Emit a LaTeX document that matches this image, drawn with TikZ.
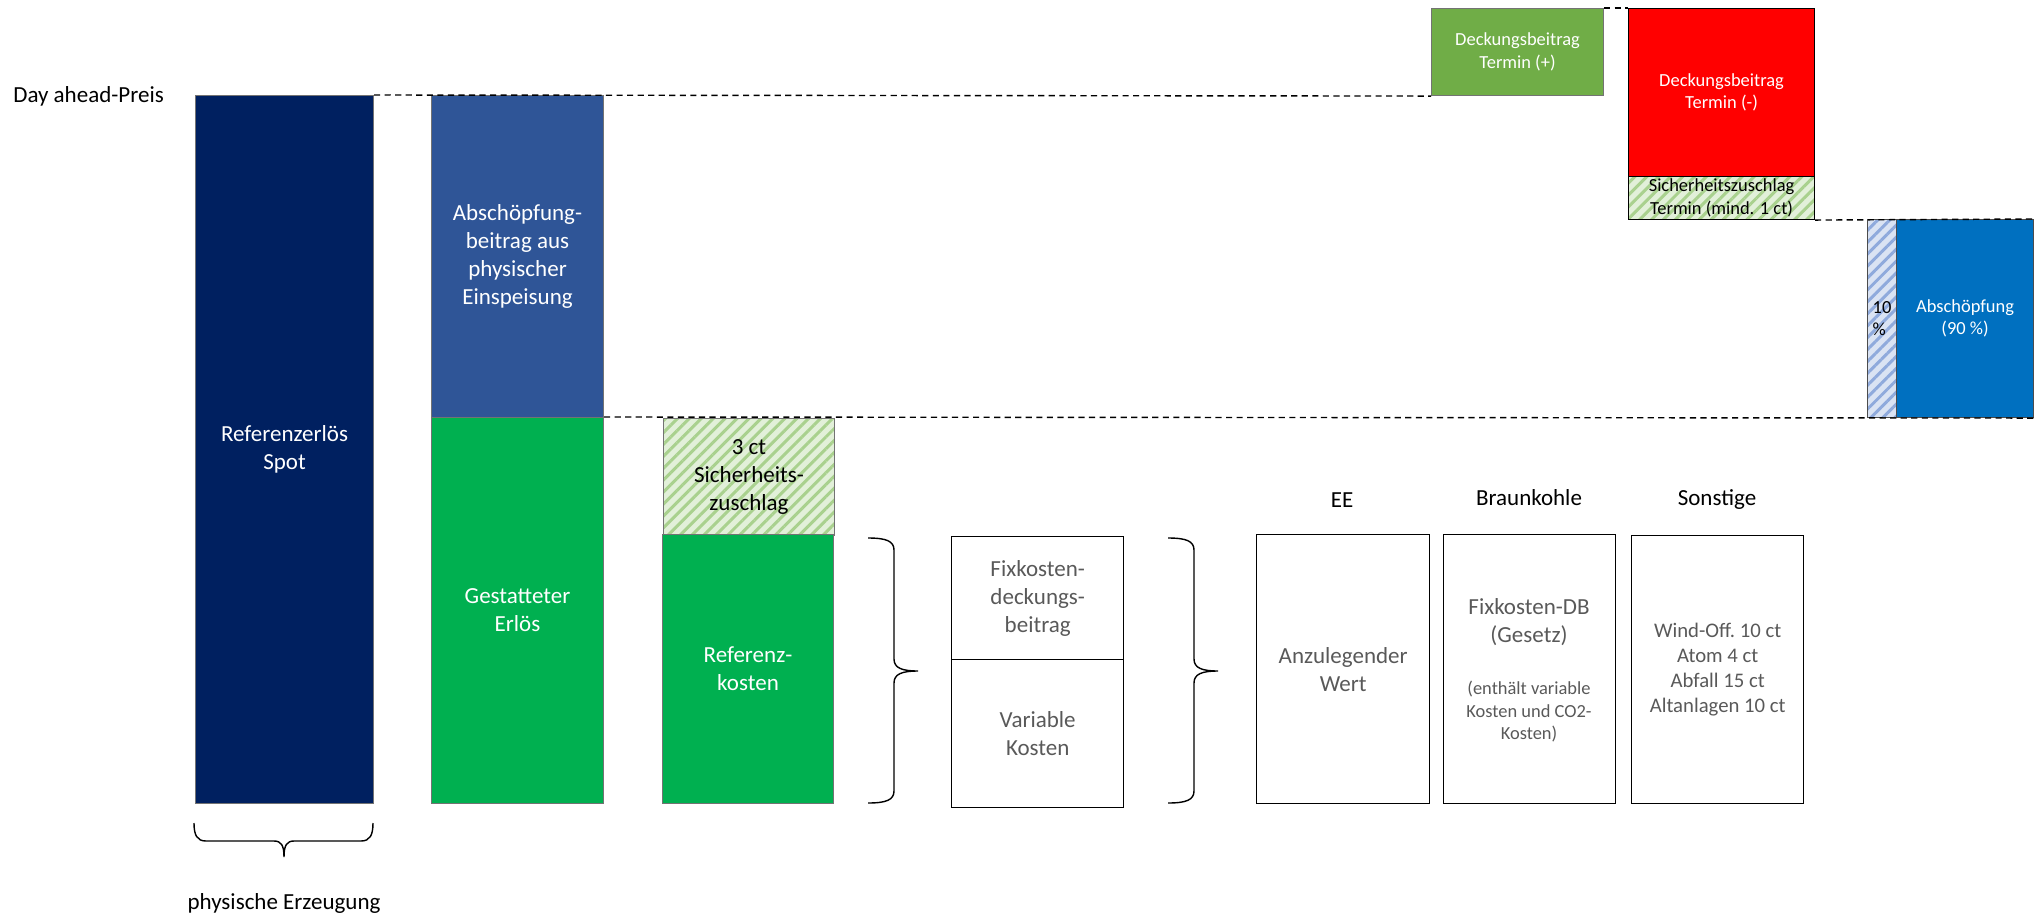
\documentclass[tikz,border=0pt]{standalone}
\usepackage{fontspec}
\setmainfont{Carlito}
\usetikzlibrary{patterns.meta}
\definecolor{navy}{HTML}{002060}
\definecolor{abblue}{HTML}{2F5597}
\definecolor{okgreen}{HTML}{00B050}
\definecolor{lgreen}{HTML}{70AD47}
\definecolor{midblue}{HTML}{0070C0}
\definecolor{hgbg}{HTML}{E2F0D9}
\definecolor{hgfg}{HTML}{A9D18E}
\definecolor{hbbg}{HTML}{DAE3F3}
\definecolor{hbfg}{HTML}{8FAADC}
\definecolor{txtgray}{HTML}{595959}
\newcommand{\bigtxt}{\fontsize{13.1pt}{15.9pt}\selectfont}
\newcommand{\midtxt}{\fontsize{11.8pt}{14.2pt}\selectfont}
\newcommand{\smalltxt}{\fontsize{10.5pt}{12.8pt}\selectfont}
% vertical brace, tip to the right: left x, top y, tip y, bottom y
\newcommand{\rbrc}[4]{\draw[line width=0.8pt] (#1,#2) .. controls (#1+18,#2) and (#1+26,#2+3) .. (#1+26,#2+12)
  -- (#1+26,#3-12) .. controls (#1+26,#3-3) and (#1+34,#3) .. (#1+50,#3)
  .. controls (#1+34,#3) and (#1+26,#3+3) .. (#1+26,#3+12)
  -- (#1+26,#4-12) .. controls (#1+26,#4-3) and (#1+18,#4) .. (#1,#4)}
\tikzset{
  wh/.style 2 args={minimum width=#1*0.02cm, minimum height=#2*0.02cm},
  bar/.style={draw=black!55, line width=0.6pt, anchor=north west, align=center,
    inner sep=1pt, text=white, font=\bigtxt},
  box/.style={draw=black, line width=0.8pt, anchor=north west, align=center,
    inner sep=1pt, text=txtgray, font=\bigtxt},
  ghatch/.style={preaction={fill=hgbg}, pattern={Lines[angle=45,distance=4.8pt,line width=1.7pt]},
    pattern color=hgfg, text=black},
  bhatch/.style={preaction={fill=hbbg}, pattern={Lines[angle=45,distance=4.8pt,line width=1.7pt]},
    pattern color=hbfg, text=black},
  txt/.style={inner sep=0pt, font=\bigtxt},
  level/.style={line width=0.8pt, dash pattern=on 3.5pt off 2.5pt}
}
\begin{document}
\begin{tikzpicture}[x=0.02cm,y=-0.02cm]
  \useasboundingbox (0,0) rectangle (2042,917);
  % left columns
  \node[txt, anchor=west] (dap) at (13,96) {Day ahead-Preis};
  \node[bar, fill=navy, wh={178}{708}] (spot) at (195,95) {Referenzerlös\\Spot};
  \node[bar, fill=abblue, wh={172}{322}] (absb) at (431,95) {Abschöpfung-\\beitrag aus\\physischer\\Einspeisung};
  \node[bar, fill=okgreen, wh={172}{386}] (erl) at (431,417) {Gestatteter\\Erlös};
  \node[bar, ghatch, wh={171}{117}] (sz3) at (662,417) {3 ct\\Sicherheits-\\zuschlag};
  \node[bar, fill=okgreen, wh={171}{269}] (refk) at (662,534) {Referenz-\\kosten};
  \node[box, wh={172}{123}] (fixdb) at (951,536) {Fixkosten-\\deckungs-\\beitrag};
  \node[box, wh={172}{148}] (vark) at (951,659) {Variable\\Kosten};
  % kinds of plants
  \node[txt] (eeh) at (1342,500) {EE};
  \node[txt] (bkh) at (1529,498) {Braunkohle};
  \node[txt] (soh) at (1717,500) {Sonstige};
  \node[box, wh={173}{269}] (ee) at (1256,534) {Anzulegender\\Wert};
  \node[box, wh={172}{269}] (bk) at (1443,534) {};
  \node[txt, align=center, text=txtgray] (bkdb) at (1529,622) {Fixkosten-DB\\(Gesetz)};
  \node[txt, align=center, text=txtgray, font=\smalltxt] (bkvk) at (1529,712) {(enthält variable\\Kosten und CO2-\\Kosten)};
  \node[box, font=\midtxt, wh={172}{268}] (so) at (1631,535) {Wind-Off.\ 10 ct\\Atom 4 ct\\Abfall 15 ct\\Altanlagen 10 ct};
  % forward market
  \node[bar, fill=lgreen, font=\smalltxt, wh={172}{87}] (dbp) at (1431,8) {Deckungsbeitrag\\Termin (+)};
  \node[bar, draw=black, fill=red, font=\smalltxt, wh={186}{168}] (dbm) at (1628,8) {Deckungsbeitrag\\Termin (-)};
  \node[bar, draw=black, ghatch, font=\smalltxt, inner sep=0.5pt, wh={186}{43}] (szt) at (1628,176) {Sicherheitszuschlag\\Termin (mind. 1 ct)};
  \node[bar, draw=black!70, bhatch, font=\smalltxt, align=left, inner sep=0.5pt, wh={29}{198}] (p10) at (1867,219) {10\\\%};
  \node[bar, draw=black!70, fill=midblue, font=\smalltxt, wh={137}{198}] (absp) at (1896,219) {Abschöpfung\\(90 \%)};
  % price levels
  \draw[level] (spot.north east) -- (dbp.south west);
  \draw[level] (dbp.north east) -- (dbm.north west);
  \draw[level] (szt.south east) -- (absp.north east);
  \draw[level] (erl.north east) -- (absp.south east);
  % braces
  \rbrc{868}{538}{671}{803};
  \rbrc{1168}{538}{671}{803};
  \draw[line width=0.8pt] (194,823) .. controls (194,835) and (197,841) .. (206,841) -- (274,841)
    .. controls (281,841) and (284,845) .. (284,857)
    .. controls (284,845) and (287,841) .. (294,841) -- (361,841)
    .. controls (370,841) and (373,835) .. (373,823);
  \node[txt] (phys) at (284,903) {physische Erzeugung};
\end{tikzpicture}
\end{document}
